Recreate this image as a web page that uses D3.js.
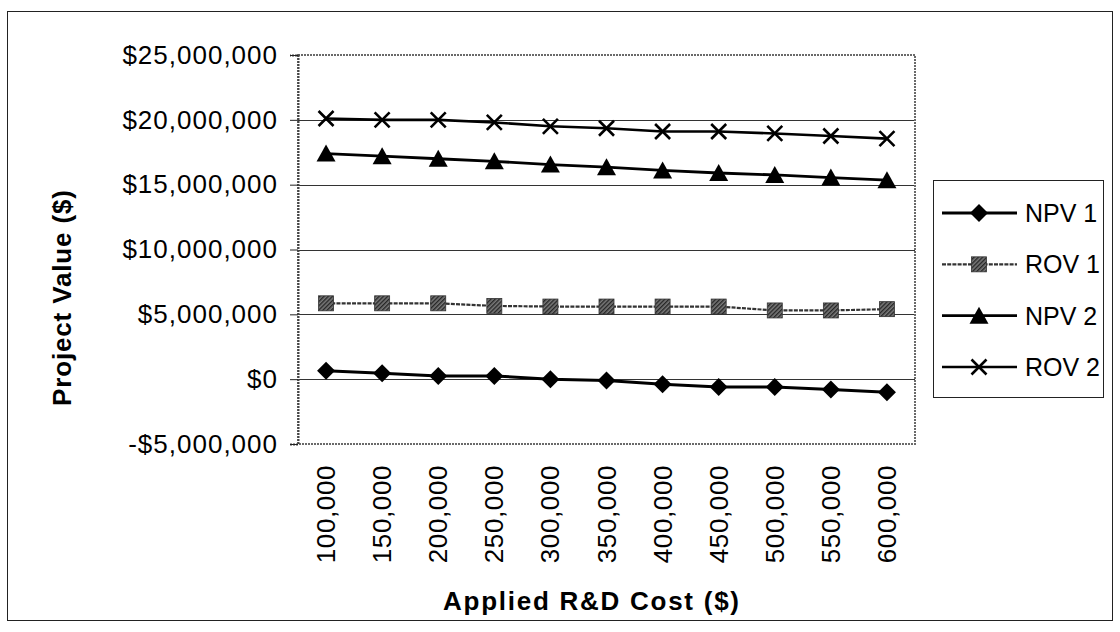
<!DOCTYPE html>
<html>
<head>
<meta charset="utf-8">
<script src="https://cdn.jsdelivr.net/npm/d3@7"></script>
<style>
  html, body { margin: 0; padding: 0; background: #fff; }
  svg { display: block; }
  text { font-family: "Liberation Sans", Arial, Helvetica, sans-serif; fill: #000; }
</style>
</head>
<body>
<svg id="chart" width="1120" height="632"></svg>
<script>
// Applied R&D cost categories (x axis)
const categories = ["100,000", "150,000", "200,000", "250,000", "300,000", "350,000",
                    "400,000", "450,000", "500,000", "550,000", "600,000"];

// Project values per series ($)
const npv1 = [650000, 450000, 250000, 250000, 0, -100000, -400000, -600000, -600000, -800000, -1000000];
const rov1 = [5850000, 5850000, 5850000, 5650000, 5600000, 5600000, 5600000, 5600000, 5300000, 5300000, 5400000];
const npv2 = [17400000, 17200000, 17000000, 16800000, 16550000, 16350000, 16100000, 15900000, 15750000, 15550000, 15350000];
const rov2 = [20100000, 20000000, 20000000, 19800000, 19500000, 19350000, 19100000, 19100000, 18950000, 18750000, 18550000];

// y axis ticks
const yTicks = [-5000000, 0, 5000000, 10000000, 15000000, 20000000, 25000000];

const seriesNames = ["NPV 1", "ROV 1", "NPV 2", "ROV 2"];
const seriesValues = [npv1, rov1, npv2, rov2];

const svg = d3.select("#chart");

// hatched fill for the square markers
const defs = svg.append("defs");
const pat = defs.append("pattern")
  .attr("id", "hatch").attr("patternUnits", "userSpaceOnUse")
  .attr("width", 3).attr("height", 3)
  .attr("patternTransform", "rotate(45)");
pat.append("rect").attr("width", 3).attr("height", 3).attr("fill", "#7a7a7a");
pat.append("rect").attr("width", 1.4).attr("height", 3).attr("fill", "#262626");

// outer frame
svg.append("rect").attr("x", 7.5).attr("y", 11.5).attr("width", 1105).attr("height", 609)
  .attr("fill", "none").attr("stroke", "#222").attr("stroke-width", 1);

const plot = { left: 298, right: 915, top: 55, bottom: 444 };

const x = d3.scaleBand().domain(categories).range([plot.left, plot.right]).padding(0);
const cx = c => x(c) + x.bandwidth() / 2;
const y = d3.scaleLinear().domain([-5000000, 25000000]).range([plot.bottom, plot.top]);

const fmt = v => (v < 0 ? "-$" : "$") + d3.format(",")(Math.abs(v));

// gridlines
svg.append("g")
  .selectAll("line").data(yTicks.filter(t => t > -5000000 && t < 25000000)).join("line")
  .attr("x1", plot.left).attr("x2", plot.right)
  .attr("y1", d => Math.round(y(d)) + 0.5).attr("y2", d => Math.round(y(d)) + 0.5)
  .attr("stroke", "#333").attr("stroke-width", 1.2);

// plot area border
svg.append("rect")
  .attr("x", plot.left).attr("y", plot.top)
  .attr("width", plot.right - plot.left).attr("height", plot.bottom - plot.top)
  .attr("fill", "none").attr("stroke", "#6a6a6a").attr("stroke-width", 2)
  .attr("stroke-dasharray", "2,1");

// y axis
const yAxis = d3.axisLeft(y).tickValues(yTicks).tickFormat(fmt).tickSize(8).tickPadding(12);
const gy = svg.append("g").attr("transform", `translate(${plot.left},0)`).call(yAxis);
gy.select(".domain").attr("stroke", "#444").attr("stroke-width", 2).attr("stroke-dasharray", "2,1");
gy.selectAll(".tick line").attr("stroke", "#222");
gy.selectAll(".tick text")
  .attr("font-size", 26).attr("letter-spacing", "1px")
  .attr("font-family", "'Liberation Sans', Arial, sans-serif").attr("fill", "#000");

// x axis labels (rotated)
const xAxis = d3.axisBottom(x).tickSize(0).tickPadding(0);
const gx = svg.append("g").attr("transform", `translate(0,${plot.bottom})`).call(xAxis);
gx.select(".domain").remove();
gx.selectAll(".tick text")
  .attr("font-size", 26).attr("letter-spacing", "0.6px")
  .attr("font-family", "'Liberation Sans', Arial, sans-serif").attr("fill", "#000")
  .attr("text-anchor", "end").attr("dominant-baseline", "central")
  .attr("transform", "translate(0,21) rotate(-90)")
  .attr("x", 0).attr("y", 0).attr("dy", null);

// axis titles
svg.append("text")
  .attr("transform", "translate(62,298) rotate(-90)")
  .attr("text-anchor", "middle").attr("dominant-baseline", "central")
  .attr("font-size", 26).attr("font-weight", "bold")
  .attr("textLength", 216).attr("lengthAdjust", "spacing")
  .text("Project Value ($)");

svg.append("text")
  .attr("x", 591).attr("y", 610)
  .attr("text-anchor", "middle")
  .attr("font-size", 26).attr("font-weight", "bold")
  .attr("textLength", 296).attr("lengthAdjust", "spacing")
  .text("Applied R&D Cost ($)");

// marker drawing
function drawMarker(g, kind, px, py) {
  if (kind === 0) {
    g.append("path").attr("d", `M${px},${py - 9}L${px + 9},${py}L${px},${py + 9}L${px - 9},${py}Z`)
      .attr("fill", "#000");
  } else if (kind === 1) {
    g.append("rect").attr("x", px - 7.5).attr("y", py - 7.5).attr("width", 15).attr("height", 15)
      .attr("fill", "url(#hatch)").attr("stroke", "#333").attr("stroke-width", 0.8);
  } else if (kind === 2) {
    g.append("path").attr("d", `M${px},${py - 9}L${px + 9.5},${py + 8}L${px - 9.5},${py + 8}Z`)
      .attr("fill", "#000");
  } else {
    g.append("path").attr("d", `M${px - 7.5},${py - 7.5}L${px + 7.5},${py + 7.5}M${px + 7.5},${py - 7.5}L${px - 7.5},${py + 7.5}`)
      .attr("stroke", "#000").attr("stroke-width", 2.6).attr("fill", "none");
  }
}

const lineStyles = [
  { stroke: "#000", width: 3, dash: null },
  { stroke: "#333", width: 2.2, dash: "4,1.2" },
  { stroke: "#000", width: 2.8, dash: null },
  { stroke: "#000", width: 2.6, dash: null }
];

const line = d3.line().x((d, i) => cx(categories[i])).y(d => y(d));

seriesValues.forEach((vals, k) => {
  const st = lineStyles[k];
  svg.append("path").datum(vals).attr("d", line)
    .attr("fill", "none").attr("stroke", st.stroke).attr("stroke-width", st.width)
    .attr("stroke-dasharray", st.dash).attr("stroke-linejoin", "round");
  const g = svg.append("g");
  vals.forEach((v, i) => drawMarker(g, k, cx(categories[i]), y(v)));
});

// legend
const legend = svg.append("g");
legend.append("rect").attr("x", 933.5).attr("y", 180.5).attr("width", 170).attr("height", 217)
  .attr("fill", "#fff").attr("stroke", "#222").attr("stroke-width", 1);
const legendY = d3.scalePoint().domain(seriesNames).range([213, 367]);
seriesNames.forEach((name, k) => {
  const ly = legendY(name);
  const st = lineStyles[k];
  legend.append("line").attr("x1", 942).attr("x2", 1017).attr("y1", ly).attr("y2", ly)
    .attr("stroke", st.stroke).attr("stroke-width", st.width).attr("stroke-dasharray", st.dash);
  drawMarker(legend, k, 979, ly);
  legend.append("text").attr("x", 1025).attr("y", ly)
    .attr("dominant-baseline", "central").attr("font-size", 25)
    .text(name);
});
</script>
</body>
</html>
